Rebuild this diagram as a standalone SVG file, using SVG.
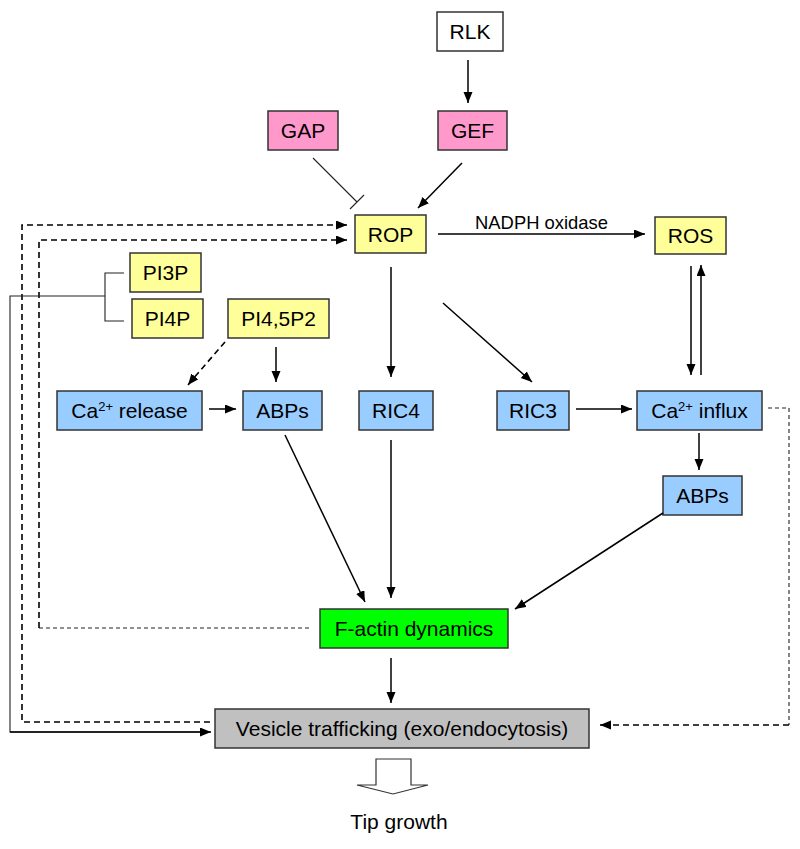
<svg xmlns="http://www.w3.org/2000/svg" width="800" height="849" viewBox="0 0 800 849">
<defs>
<marker id="ah" markerUnits="userSpaceOnUse" markerWidth="12" markerHeight="10" refX="11" refY="4.5" orient="auto">
<path d="M0,0 L11,4.5 L0,9 z" fill="#000"/>
</marker>
</defs>
<style>
.box{stroke:#333;stroke-width:1.5}
.y{fill:#FFFF99}.p{fill:#FF99CC}.b{fill:#99CCFF}.g{fill:#00FF00}.gr{fill:#C0C0C0}.w{fill:#fff}
text{font-family:"Liberation Sans",Arial,sans-serif;font-size:21px;fill:#000;text-anchor:middle}
.sup{font-size:13px}
.a{stroke:#000;stroke-width:1.5;fill:none;marker-end:url(#ah)}
.d{stroke:#000;stroke-width:1.6;fill:none;stroke-dasharray:6 4}
.df{stroke:#222;stroke-width:1.1;fill:none;stroke-dasharray:4 3}
.t{stroke:#222;stroke-width:1.1;fill:none}
</style>
<rect width="800" height="849" fill="#fff"/>
<g id="RLK"><rect class="box w" x="437" y="12" width="66" height="39"/><text x="470" y="39">RLK</text></g>
<g id="GAP"><rect class="box p" x="268" y="111" width="70" height="39"/><text x="303" y="138">GAP</text></g>
<g id="GEF"><rect class="box p" x="438" y="111" width="69" height="39"/><text x="472.5" y="138">GEF</text></g>
<g id="ROP"><rect class="box y" x="355" y="215" width="71" height="38"/><text x="390.5" y="241.5">ROP</text></g>
<g id="ROS"><rect class="box y" x="655" y="217" width="71" height="37"/><text x="690.5" y="243">ROS</text></g>
<g id="PI3P"><rect class="box y" x="130" y="253" width="71" height="39"/><text x="165.5" y="280">PI3P</text></g>
<g id="PI4P"><rect class="box y" x="132" y="299" width="71" height="39"/><text x="167.5" y="326">PI4P</text></g>
<g id="PI45P2"><rect class="box y" x="228" y="299" width="101" height="39"/><text x="278.5" y="326">PI4,5P2</text></g>
<g id="CaRelease"><rect class="box b" x="57" y="391" width="145" height="39"/><text x="129.5" y="418">Ca<tspan class="sup" dy="-7">2+</tspan><tspan dy="7"> release</tspan></text></g>
<g id="ABPs1"><rect class="box b" x="243" y="391" width="79" height="39"/><text x="282.5" y="418">ABPs</text></g>
<g id="RIC4"><rect class="box b" x="359" y="391" width="74" height="39"/><text x="396" y="418">RIC4</text></g>
<g id="RIC3"><rect class="box b" x="497" y="391" width="72" height="39"/><text x="533" y="418">RIC3</text></g>
<g id="CaInflux"><rect class="box b" x="637" y="391" width="125" height="39"/><text x="699.5" y="418">Ca<tspan class="sup" dy="-7">2+</tspan><tspan dy="7"> influx</tspan></text></g>
<g id="ABPs2"><rect class="box b" x="663" y="476" width="79" height="39"/><text x="702.5" y="503">ABPs</text></g>
<g id="Factin"><rect class="box g" x="320" y="609" width="188" height="39"/><text x="414" y="636">F-actin dynamics</text></g>
<g id="Vesicle"><rect class="box gr" x="215" y="709" width="374" height="39"/><text x="402" y="736">Vesicle trafficking (exo/endocytosis)</text></g>
<g id="TipGrowth"><polygon points="376,759 411,759 411,785 428,785 393,794 357,785 376,785" fill="#fff" stroke="#333" stroke-width="1.2"/><text x="399" y="829">Tip growth</text></g>
<g id="connectors">
<path class="a" d="M468,60 L468,103"/>
<path class="t" d="M313,158 L357,202 M350,209 L364,195"/>
<path class="a" d="M462,163 L418,208"/>
<path class="d" d="M210,722 L22,722 L22,225 L340,225"/>
<path class="a" d="M340,225 L347,225"/>
<path class="df" d="M309,628 L39,628"/>
<path class="d" d="M39,628 L39,240 L340,240"/>
<path class="a" d="M340,240 L347,240"/>
<path class="t" d="M124,273 L105,273 L105,321 L124,321 M105,296 L10,296 L10,732 L200,732"/>
<path class="a" d="M10,732 L211,732"/>
<path class="d" d="M225,342 L192,380"/>
<path class="a" d="M192,380 L188,385"/>
<path class="a" d="M276,347 L276,382"/>
<path class="a" d="M209,409 L236,409"/>
<path class="a" d="M391,267 L391,377"/>
<path class="a" d="M443,303 L532,382"/>
<path class="a" d="M438,234 L645,234"/>
<text x="541.5" y="229" style="font-size:18.4px">NADPH oxidase</text>
<path class="a" d="M691,266 L691,375"/>
<path class="a" d="M701,375 L701,265"/>
<path class="a" d="M576,409 L632,409"/>
<path class="a" d="M699,433 L699,470"/>
<path class="a" d="M285,435 L365,602"/>
<path class="a" d="M391,440 L391,598"/>
<path class="a" d="M663,513 L515,609"/>
<path class="df" d="M768,408 L789,408 L789,725"/>
<path class="d" d="M789,725 L606,725"/>
<path class="a" d="M606,725 L600,725"/>
<path class="a" d="M391,658 L391,703"/>
</g>
</svg>
